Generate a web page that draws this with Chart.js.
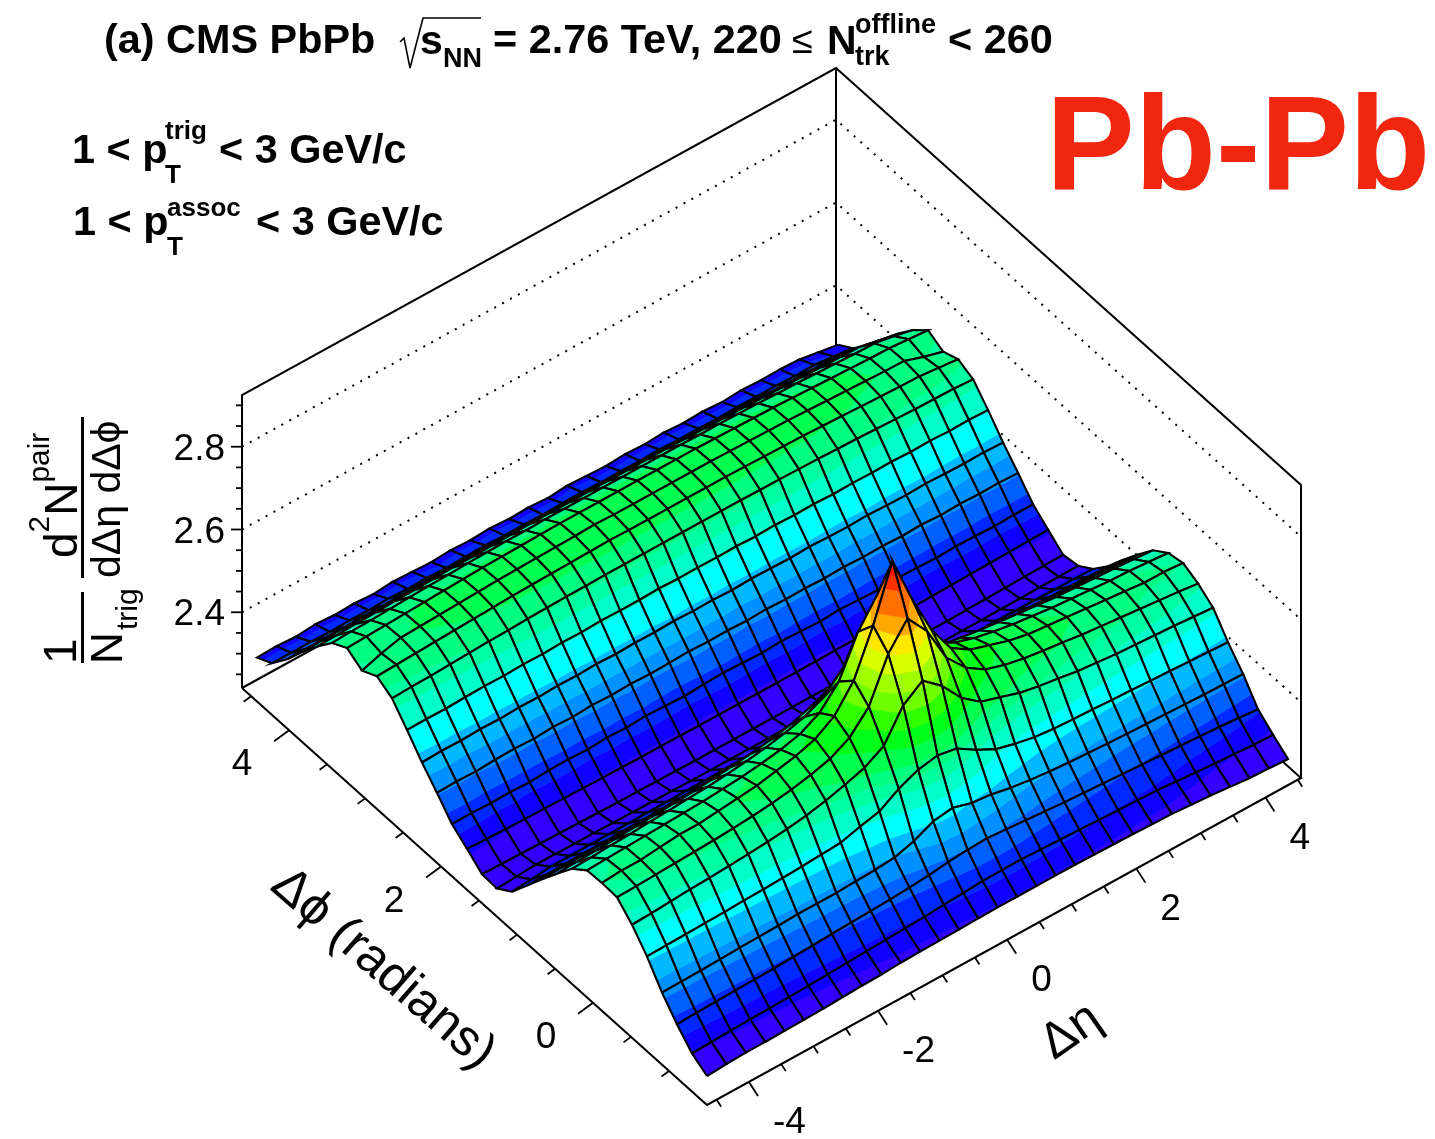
<!DOCTYPE html>
<html>
<head>
<meta charset="utf-8">
<title>CMS PbPb ridge</title>
<script src="https://cdn.jsdelivr.net/npm/chart.js@4"></script>
<style>
	html, body { margin: 0; background: #fff; }
	#page { position: relative; width: 1435px; height: 1139px; overflow: hidden; font-family: "Liberation Sans", Arial, sans-serif; color: #000; }
	#stage { position: absolute; left: 0; top: 0; }
	.t { position: absolute; white-space: nowrap; line-height: 1; transform: translateY(-50%); }
	.b { font-weight: bold; }
	.r { position: absolute; white-space: nowrap; line-height: 1; transform-origin: 0 0; }
	.r sup { font-size: 65%; vertical-align: 0.95em; line-height: 0; }
	.r sup.low { vertical-align: 0.95em; }
</style>
</head>
<body>
<div id="page">
	<canvas id="stage" width="1435" height="1139"></canvas>
	<svg style="position:absolute;left:0;top:0" width="1435" height="1139"><polyline points="400,42 404,38 410,68 423,18 481,18" fill="none" stroke="#000" stroke-width="1.6"/></svg>

	<div class="t b" style="left:104px;top:40px;font-size:41.4px">(a) CMS PbPb</div>
	<div class="t b" style="left:420px;top:40px;font-size:41px">s</div>
	<div class="t b" style="left:443px;top:58px;font-size:27px">NN</div>
	<div class="t b" style="left:493px;top:40px;font-size:41.4px">= 2.76 TeV, 220</div>
	<div class="t" style="left:792px;top:40px;font-size:38px">≤</div>
	<div class="t b" style="left:827px;top:40px;font-size:41px">N</div>
	<div class="t b" style="left:855px;top:24px;font-size:27px">offline</div>
	<div class="t b" style="left:855px;top:56px;font-size:27px">trk</div>
	<div class="t b" style="left:948px;top:40px;font-size:41.4px">&lt; 260</div>

	<div class="t b" style="left:72px;top:150px;font-size:41.4px">1 &lt; p</div>
	<div class="t b" style="left:165px;top:130px;font-size:26px">trig</div>
	<div class="t b" style="left:165px;top:174px;font-size:26px">T</div>
	<div class="t b" style="left:219px;top:150px;font-size:41.4px">&lt; 3 GeV/c</div>
	<div class="t b" style="left:73px;top:222px;font-size:41.4px">1 &lt; p</div>
	<div class="t b" style="left:167px;top:207px;font-size:26px">assoc</div>
	<div class="t b" style="left:167px;top:246px;font-size:26px">T</div>
	<div class="t b" style="left:256px;top:222px;font-size:41.4px">&lt; 3 GeV/c</div>

	<div class="t b" style="left:1046px;top:143px;font-size:133px;color:#f0260f">Pb-Pb</div>

	<!-- z axis title, rotated pieces -->
	<div class="r" style="left:37px;top:664px;font-size:46px;transform:rotate(-90deg)">1</div>
	<div style="position:absolute;left:81px;top:592px;width:3px;height:71px;background:#000"></div>
	<div class="r" style="left:85px;top:664px;font-size:44px;transform:rotate(-90deg)">N</div>
	<div class="r" style="left:112px;top:630px;font-size:30px;transform:rotate(-90deg)">trig</div>
	<div class="r" style="left:38px;top:558px;font-size:46px;transform:rotate(-90deg)">d<sup>2</sup>N<sup>pair</sup></div>
	<div style="position:absolute;left:81px;top:417px;width:3px;height:161px;background:#000"></div>
	<div class="r" style="left:86px;top:578px;font-size:41px;transform:rotate(-90deg)">dΔη dΔϕ</div>

	<!-- floor axis titles -->
	<div class="r" style="left:297px;top:856px;font-size:51px;transform:rotate(41deg)">Δϕ (radians)</div>
	<div class="r" style="left:1030px;top:1026px;font-size:50px;transform:rotate(-35deg)">Δη</div>
</div>

<script>
Chart.defaults.animation = false;

// axis tick values
var etaTicks = [-4.5, -4, -3.5, -3, -2.5, -2, -1.5, -1, -0.5, 0, 0.5, 1, 1.5, 2, 2.5, 3, 3.5, 4, 4.5];
var phiTicks = [-1, -0.5, 0, 0.5, 1, 1.5, 2, 2.5, 3, 3.5, 4, 4.5];
var zTicks = [2.25, 2.3, 2.35, 2.4, 2.45, 2.5, 2.55, 2.6, 2.65, 2.7, 2.75, 2.8, 2.85, 2.9];
var etaTickLabels = [-4, -2, 0, 2, 4];
var phiTickLabels = [0, 2, 4];
var zTickLabels = [2.4, 2.6, 2.8];

// grid nodes of the surface
var etaNodes = [-4.65, -4.35, -4.05, -3.75, -3.45, -3.15, -2.85, -2.55, -2.25, -1.95, -1.65, -1.35, -1.05, -0.75, -0.45, -0.15, 0.15, 0.45, 0.75, 1.05, 1.35, 1.65, 1.95, 2.25, 2.55, 2.85, 3.15, 3.45, 3.75, 4.05, 4.35];
var phiNodes = [-1.5, -1.303, -1.105, -0.908, -0.71, -0.513, -0.316, -0.118, 0.079, 0.277, 0.474, 0.671, 0.869, 1.066, 1.264, 1.461, 1.658, 1.856, 2.053, 2.251, 2.448, 2.645, 2.843, 3.04, 3.238, 3.435, 3.632, 3.83, 4.027, 4.225, 4.422];

// surface height, one row per phi node, one value per eta node
var surfaceZ = [
	[2.287, 2.290, 2.292, 2.292, 2.293, 2.294, 2.295, 2.297, 2.299, 2.300, 2.303, 2.304, 2.305, 2.306, 2.307, 2.308, 2.308, 2.308, 2.308, 2.308, 2.307, 2.306, 2.305, 2.303, 2.302, 2.298, 2.295, 2.290, 2.285, 2.283, 2.280],
	[2.309, 2.311, 2.313, 2.314, 2.315, 2.316, 2.318, 2.320, 2.322, 2.324, 2.326, 2.328, 2.330, 2.333, 2.336, 2.339, 2.340, 2.340, 2.338, 2.336, 2.334, 2.332, 2.330, 2.328, 2.326, 2.322, 2.318, 2.314, 2.311, 2.308, 2.306],
	[2.347, 2.349, 2.350, 2.351, 2.352, 2.353, 2.355, 2.357, 2.359, 2.361, 2.363, 2.365, 2.368, 2.372, 2.378, 2.382, 2.384, 2.380, 2.376, 2.372, 2.368, 2.365, 2.362, 2.359, 2.356, 2.353, 2.350, 2.347, 2.344, 2.340, 2.335],
	[2.391, 2.392, 2.393, 2.394, 2.396, 2.397, 2.398, 2.400, 2.400, 2.400, 2.402, 2.404, 2.408, 2.422, 2.444, 2.451, 2.437, 2.432, 2.422, 2.415, 2.410, 2.406, 2.403, 2.400, 2.398, 2.396, 2.394, 2.392, 2.390, 2.389, 2.388],
	[2.446, 2.447, 2.448, 2.449, 2.450, 2.452, 2.453, 2.455, 2.457, 2.460, 2.463, 2.476, 2.487, 2.516, 2.536, 2.545, 2.536, 2.507, 2.483, 2.470, 2.460, 2.455, 2.452, 2.450, 2.447, 2.445, 2.442, 2.440, 2.437, 2.435, 2.432],
	[2.490, 2.492, 2.495, 2.498, 2.500, 2.503, 2.506, 2.510, 2.515, 2.522, 2.532, 2.545, 2.560, 2.587, 2.659, 2.693, 2.655, 2.600, 2.565, 2.550, 2.535, 2.525, 2.518, 2.510, 2.505, 2.500, 2.497, 2.494, 2.491, 2.487, 2.483],
	[2.524, 2.525, 2.527, 2.529, 2.531, 2.533, 2.536, 2.540, 2.545, 2.552, 2.562, 2.575, 2.600, 2.649, 2.751, 2.811, 2.755, 2.665, 2.615, 2.585, 2.570, 2.560, 2.553, 2.547, 2.540, 2.535, 2.530, 2.525, 2.520, 2.515, 2.509],
	[2.526, 2.530, 2.530, 2.535, 2.540, 2.540, 2.545, 2.550, 2.555, 2.565, 2.575, 2.590, 2.620, 2.680, 2.787, 2.917, 2.800, 2.700, 2.630, 2.600, 2.585, 2.570, 2.560, 2.555, 2.550, 2.545, 2.540, 2.535, 2.530, 2.530, 2.526],
	[2.524, 2.526, 2.528, 2.530, 2.532, 2.534, 2.536, 2.540, 2.544, 2.550, 2.558, 2.570, 2.595, 2.645, 2.740, 2.805, 2.745, 2.660, 2.610, 2.585, 2.570, 2.560, 2.552, 2.546, 2.540, 2.536, 2.532, 2.528, 2.526, 2.522, 2.518],
	[2.495, 2.497, 2.500, 2.502, 2.505, 2.507, 2.510, 2.513, 2.517, 2.523, 2.530, 2.540, 2.553, 2.575, 2.620, 2.655, 2.620, 2.578, 2.555, 2.545, 2.537, 2.530, 2.524, 2.518, 2.513, 2.508, 2.505, 2.502, 2.499, 2.496, 2.492],
	[2.451, 2.453, 2.455, 2.457, 2.460, 2.462, 2.465, 2.468, 2.472, 2.477, 2.483, 2.490, 2.500, 2.515, 2.535, 2.550, 2.535, 2.512, 2.498, 2.490, 2.484, 2.478, 2.474, 2.470, 2.466, 2.463, 2.460, 2.457, 2.455, 2.452, 2.449],
	[2.405, 2.407, 2.408, 2.410, 2.411, 2.413, 2.415, 2.417, 2.419, 2.422, 2.426, 2.430, 2.436, 2.442, 2.450, 2.456, 2.450, 2.440, 2.434, 2.430, 2.426, 2.423, 2.420, 2.418, 2.416, 2.414, 2.412, 2.410, 2.408, 2.406, 2.404],
	[2.357, 2.358, 2.359, 2.360, 2.360, 2.361, 2.362, 2.363, 2.364, 2.365, 2.367, 2.369, 2.371, 2.374, 2.378, 2.381, 2.378, 2.374, 2.371, 2.369, 2.367, 2.365, 2.364, 2.363, 2.362, 2.361, 2.360, 2.359, 2.358, 2.357, 2.356],
	[2.310, 2.314, 2.319, 2.319, 2.320, 2.320, 2.320, 2.321, 2.321, 2.322, 2.322, 2.323, 2.324, 2.325, 2.327, 2.328, 2.327, 2.325, 2.324, 2.323, 2.322, 2.322, 2.321, 2.321, 2.320, 2.320, 2.319, 2.319, 2.318, 2.318, 2.317],
	[2.285, 2.288, 2.291, 2.291, 2.290, 2.290, 2.289, 2.289, 2.288, 2.288, 2.287, 2.287, 2.287, 2.287, 2.287, 2.288, 2.288, 2.287, 2.287, 2.287, 2.287, 2.287, 2.288, 2.288, 2.289, 2.289, 2.290, 2.290, 2.291, 2.291, 2.292],
	[2.287, 2.286, 2.285, 2.284, 2.283, 2.282, 2.281, 2.280, 2.280, 2.279, 2.279, 2.278, 2.278, 2.278, 2.278, 2.278, 2.278, 2.278, 2.278, 2.278, 2.278, 2.279, 2.279, 2.280, 2.280, 2.281, 2.282, 2.283, 2.284, 2.285, 2.286],
	[2.316, 2.314, 2.312, 2.311, 2.310, 2.309, 2.308, 2.307, 2.307, 2.306, 2.306, 2.306, 2.305, 2.305, 2.305, 2.305, 2.305, 2.305, 2.305, 2.306, 2.306, 2.306, 2.307, 2.307, 2.308, 2.309, 2.310, 2.311, 2.312, 2.313, 2.314],
	[2.343, 2.344, 2.342, 2.343, 2.341, 2.344, 2.345, 2.343, 2.346, 2.344, 2.347, 2.345, 2.343, 2.346, 2.348, 2.346, 2.344, 2.347, 2.345, 2.343, 2.346, 2.344, 2.342, 2.345, 2.344, 2.342, 2.344, 2.343, 2.341, 2.343, 2.343],
	[2.386, 2.388, 2.386, 2.389, 2.390, 2.388, 2.391, 2.389, 2.392, 2.390, 2.392, 2.390, 2.391, 2.393, 2.391, 2.392, 2.390, 2.392, 2.390, 2.391, 2.389, 2.391, 2.389, 2.390, 2.388, 2.390, 2.387, 2.389, 2.387, 2.388, 2.386],
	[2.427, 2.429, 2.428, 2.430, 2.429, 2.431, 2.430, 2.432, 2.431, 2.433, 2.431, 2.433, 2.432, 2.434, 2.432, 2.433, 2.431, 2.433, 2.432, 2.431, 2.433, 2.431, 2.430, 2.432, 2.430, 2.429, 2.431, 2.429, 2.428, 2.429, 2.427],
	[2.473, 2.474, 2.473, 2.475, 2.476, 2.475, 2.477, 2.476, 2.478, 2.477, 2.479, 2.478, 2.478, 2.480, 2.478, 2.479, 2.478, 2.479, 2.477, 2.479, 2.477, 2.478, 2.476, 2.477, 2.476, 2.477, 2.475, 2.476, 2.474, 2.475, 2.473],
	[2.517, 2.519, 2.520, 2.522, 2.524, 2.526, 2.527, 2.529, 2.530, 2.531, 2.531, 2.532, 2.532, 2.532, 2.532, 2.532, 2.532, 2.532, 2.532, 2.531, 2.531, 2.530, 2.529, 2.527, 2.526, 2.524, 2.522, 2.520, 2.519, 2.518, 2.515],
	[2.538, 2.540, 2.542, 2.544, 2.546, 2.548, 2.550, 2.552, 2.553, 2.554, 2.555, 2.556, 2.557, 2.556, 2.556, 2.556, 2.556, 2.556, 2.556, 2.555, 2.554, 2.553, 2.552, 2.550, 2.548, 2.546, 2.544, 2.542, 2.541, 2.536, 2.531],
	[2.519, 2.535, 2.547, 2.549, 2.551, 2.553, 2.555, 2.557, 2.558, 2.559, 2.560, 2.561, 2.563, 2.561, 2.561, 2.561, 2.561, 2.561, 2.561, 2.560, 2.559, 2.558, 2.557, 2.555, 2.553, 2.551, 2.549, 2.547, 2.546, 2.530, 2.517],
	[2.541, 2.543, 2.545, 2.547, 2.549, 2.551, 2.553, 2.555, 2.556, 2.557, 2.558, 2.559, 2.559, 2.559, 2.559, 2.559, 2.559, 2.559, 2.559, 2.558, 2.557, 2.556, 2.555, 2.553, 2.551, 2.549, 2.547, 2.545, 2.544, 2.540, 2.536],
	[2.521, 2.523, 2.524, 2.526, 2.528, 2.530, 2.531, 2.533, 2.534, 2.535, 2.535, 2.536, 2.536, 2.536, 2.536, 2.536, 2.536, 2.536, 2.536, 2.535, 2.535, 2.534, 2.533, 2.531, 2.530, 2.528, 2.526, 2.524, 2.523, 2.515, 2.504],
	[2.480, 2.481, 2.483, 2.484, 2.486, 2.487, 2.488, 2.490, 2.490, 2.491, 2.492, 2.493, 2.493, 2.493, 2.493, 2.493, 2.493, 2.493, 2.493, 2.492, 2.491, 2.490, 2.490, 2.488, 2.487, 2.486, 2.484, 2.483, 2.482, 2.472, 2.463],
	[2.434, 2.435, 2.436, 2.437, 2.438, 2.439, 2.440, 2.441, 2.441, 2.442, 2.442, 2.443, 2.443, 2.443, 2.443, 2.443, 2.443, 2.443, 2.443, 2.442, 2.442, 2.441, 2.441, 2.440, 2.439, 2.438, 2.437, 2.436, 2.435, 2.426, 2.417],
	[2.384, 2.384, 2.385, 2.385, 2.386, 2.386, 2.386, 2.387, 2.387, 2.387, 2.387, 2.388, 2.388, 2.388, 2.388, 2.388, 2.388, 2.388, 2.388, 2.387, 2.387, 2.387, 2.387, 2.386, 2.386, 2.386, 2.385, 2.385, 2.385, 2.377, 2.370],
	[2.342, 2.341, 2.342, 2.340, 2.342, 2.341, 2.343, 2.341, 2.342, 2.340, 2.342, 2.343, 2.341, 2.342, 2.340, 2.342, 2.343, 2.341, 2.342, 2.341, 2.343, 2.341, 2.342, 2.340, 2.342, 2.341, 2.342, 2.340, 2.341, 2.336, 2.330],
	[2.323, 2.325, 2.322, 2.326, 2.323, 2.325, 2.322, 2.326, 2.324, 2.322, 2.325, 2.323, 2.326, 2.323, 2.325, 2.322, 2.326, 2.324, 2.322, 2.325, 2.323, 2.326, 2.323, 2.325, 2.322, 2.325, 2.323, 2.324, 2.322, 2.314, 2.306]
];

// colour contours
var bandEdges = [2.27, 2.31, 2.332, 2.358, 2.384, 2.41, 2.44, 2.475, 2.505, 2.527, 2.548, 2.58, 2.613, 2.646, 2.68, 2.714, 2.748, 2.782, 2.812, 2.862, 2.89, 2.93];
var bandColors = ['#3400ff', '#1000ff', '#0028ff', '#0060ff', '#0090ff', '#00b8ff', '#00ffff', '#00ffc8', '#00ffa0', '#00ff80', '#00ff50', '#00ff18', '#30ff00', '#70ff00', '#a0ff00', '#d8ff00', '#ffe800', '#ffa800', '#ff7000', '#ff3000', '#ff1000'];

// axis box ranges
var etaRange = [-4.65, 4.55];
var phiRange = [-1.5, 4.62];
var zRange = [2.217, 2.925];

// the oblique view: floor corners and wall height in canvas units
function project(eta, phi, z) {
	var u = (eta - etaRange[0]) / (etaRange[1] - etaRange[0]);
	var v = (phi - phiRange[0]) / (phiRange[1] - phiRange[0]);
	var w = (z - zRange[0]) / (zRange[1] - zRange[0]);
	return {
		x: 707 + 594 * u - 465 * v,
		y: 1105 - 327 * u - 417 * v - 293 * w
	};
}

// cut a polygon to one height band
function clipAbove(poly, lo, sign) {
	var out = [];
	for (var k = 0; k < poly.length; k++) {
		var a = poly[k];
		var b = poly[(k + 1) % poly.length];
		var aIn = sign * (a.z - lo) >= 0;
		var bIn = sign * (b.z - lo) >= 0;
		if (aIn) out.push(a);
		if (aIn != bIn) {
			var t = (lo - a.z) / (b.z - a.z);
			out.push({ eta: a.eta + t * (b.eta - a.eta), phi: a.phi + t * (b.phi - a.phi), z: lo });
		}
	}
	return out;
}

var layers = [];

function addLine(points, color, width, dash) {
	layers.push({
		type: 'line',
		data: points,
		borderColor: color,
		borderWidth: width,
		borderDash: dash || [],
		pointRadius: 0,
		fill: false,
		tension: 0
	});
}

function addPatch(poly, color) {
	var pts = poly.map(function(p) { return project(p.eta, p.phi, p.z); });
	pts.push(pts[0]);
	layers.push({
		type: 'line',
		data: pts,
		borderColor: color,
		backgroundColor: color,
		borderWidth: 0.7,
		pointRadius: 0,
		fill: 'shape',
		tension: 0
	});
}

// box and dotted height lines go behind the surface
var eLo = etaRange[0], eHi = etaRange[1], pLo = phiRange[0], pHi = phiRange[1], zLo = zRange[0], zHi = zRange[1];
addLine([project(eLo, pHi, zLo), project(eLo, pHi, zHi), project(eHi, pHi, zHi), project(eHi, pLo, zHi), project(eHi, pLo, zLo)], '#000', 2);
addLine([project(eHi, pHi, zHi), project(eHi, pHi, zLo)], '#000', 2);
addLine([project(eLo, pHi, zLo), project(eHi, pHi, zLo), project(eHi, pLo, zLo), project(eLo, pLo, zLo), project(eLo, pHi, zLo)], '#000', 2);
zTickLabels.forEach(function(z) {
	addLine([project(eLo, pHi, z), project(eHi, pHi, z), project(eHi, pLo, z)], '#000', 2, [2, 7]);
});

// tick marks, major ones are twice as long
etaTicks.forEach(function(t) {
	var a = project(t, pLo, zLo);
	var s = Number.isInteger(t / 2) ? 1 : 0.5;
	addLine([a, { x: a.x + 9 * s, y: a.y + 14 * s }], '#000', 1.8);
});
phiTicks.forEach(function(t) {
	var a = project(eLo, t, zLo);
	var s = Number.isInteger(t / 2) ? 1 : 0.5;
	addLine([a, { x: a.x - 15 * s, y: a.y + 11 * s }], '#000', 1.8);
});
zTicks.forEach(function(t) {
	var a = project(eLo, pHi, t);
	var s = zTickLabels.indexOf(t) >= 0 ? 11 : 6;
	addLine([a, { x: a.x - s, y: a.y }], '#000', 1.8);
});

// far cells first, so near ones cover them
for (var j = phiNodes.length - 2; j >= 0; j--) {
	for (var i = etaNodes.length - 2; i >= 0; i--) {
		var cell = [
			{ eta: etaNodes[i], phi: phiNodes[j], z: surfaceZ[j][i] },
			{ eta: etaNodes[i + 1], phi: phiNodes[j], z: surfaceZ[j][i + 1] },
			{ eta: etaNodes[i + 1], phi: phiNodes[j + 1], z: surfaceZ[j + 1][i + 1] },
			{ eta: etaNodes[i], phi: phiNodes[j + 1], z: surfaceZ[j + 1][i] }
		];
		for (var b = 0; b < bandColors.length; b++) {
			var part = cell;
			if (b > 0) part = clipAbove(part, bandEdges[b], 1);
			if (b < bandColors.length - 1 && part.length) part = clipAbove(part, bandEdges[b + 1], -1);
			if (part.length > 2) addPatch(part, bandColors[b]);
		}
		var outline = cell.map(function(p) { return project(p.eta, p.phi, p.z); });
		outline.push(outline[0]);
		addLine(outline, '#000', 2.1);
	}
}

// tick numbers sit next to the axes, placed through the chart's own scales
var tickNumbers = {
	id: 'tickNumbers',
	afterDraw: function(chart) {
		var c = chart.ctx;
		var sx = chart.scales.x, sy = chart.scales.y;
		c.save();
		c.fillStyle = '#000';
		c.font = '37px "Liberation Sans", Arial, sans-serif';
		c.textBaseline = 'middle';
		c.textAlign = 'right';
		zTickLabels.forEach(function(t) {
			var p = project(eLo, pHi, t);
			c.fillText(t.toFixed(1), sx.getPixelForValue(p.x) - 17, sy.getPixelForValue(p.y) + 3);
		});
		c.textAlign = 'left';
		etaTickLabels.forEach(function(t) {
			var p = project(t, pLo, zLo);
			c.fillText(String(t), sx.getPixelForValue(p.x) + 24, sy.getPixelForValue(p.y) + 41);
		});
		c.textAlign = 'center';
		phiTickLabels.forEach(function(t) {
			var p = project(eLo, t, zLo);
			c.fillText(String(t), sx.getPixelForValue(p.x) - 47, sy.getPixelForValue(p.y) + 35);
		});
		c.restore();
	}
};

// Chart.js paints dataset 0 last
new Chart(document.getElementById('stage'), {
	type: 'line',
	data: { datasets: layers.reverse() },
	options: {
		responsive: false,
		animation: false,
		events: [],
		parsing: { xAxisKey: 'x', yAxisKey: 'y' },
		layout: { padding: 0 },
		plugins: { legend: { display: false }, tooltip: { enabled: false }, title: { display: false } },
		scales: {
			x: { type: 'linear', min: 0, max: 1435, display: false },
			y: { type: 'linear', min: 0, max: 1139, reverse: true, display: false }
		}
	},
	plugins: [tickNumbers]
});
</script>
</body>
</html>
